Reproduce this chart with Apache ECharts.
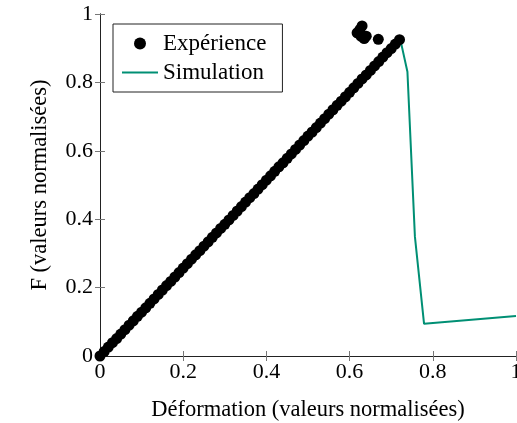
<!DOCTYPE html>
<html>
<head>
<meta charset="utf-8">
<script src="https://cdn.jsdelivr.net/npm/echarts@6/dist/echarts.min.js"></script>
<style>
  html, body { margin: 0; padding: 0; background: #fff; }
  #app { width: 517px; height: 423px; }
</style>
</head>
<body>
<div id="app"></div>
<script>
const FONT = "Liberation Serif";
const TEAL = "#008f74";

const expX = [
  0.00, 0.01, 0.02, 0.03, 0.04, 0.05, 0.06, 0.07, 0.08, 0.09,
  0.10, 0.11, 0.12, 0.13, 0.14, 0.15, 0.16, 0.17, 0.18, 0.19,
  0.20, 0.21, 0.22, 0.23, 0.24, 0.25, 0.26, 0.27, 0.28, 0.29,
  0.30, 0.31, 0.32, 0.33, 0.34, 0.35, 0.36, 0.37, 0.38, 0.39,
  0.40, 0.41, 0.42, 0.43, 0.44, 0.45, 0.46, 0.47, 0.48, 0.49,
  0.50, 0.51, 0.52, 0.53, 0.54, 0.55, 0.56, 0.57, 0.58, 0.59,
  0.60, 0.61, 0.62, 0.63, 0.64, 0.65, 0.66, 0.67, 0.68, 0.69,
  0.70, 0.71, 0.72,
  0.618, 0.625, 0.630, 0.627, 0.635, 0.640, 0.669
];
const expY = [
  0.000, 0.013, 0.026, 0.039, 0.051, 0.064, 0.077, 0.090, 0.103, 0.116,
  0.128, 0.141, 0.154, 0.167, 0.180, 0.193, 0.206, 0.218, 0.231, 0.244,
  0.257, 0.270, 0.283, 0.296, 0.308, 0.321, 0.334, 0.347, 0.360, 0.373,
  0.385, 0.398, 0.411, 0.424, 0.437, 0.450, 0.463, 0.475, 0.488, 0.501,
  0.514, 0.527, 0.540, 0.553, 0.565, 0.578, 0.591, 0.604, 0.617, 0.630,
  0.643, 0.655, 0.668, 0.681, 0.694, 0.707, 0.720, 0.733, 0.745, 0.758,
  0.771, 0.784, 0.797, 0.810, 0.822, 0.835, 0.848, 0.861, 0.874, 0.887,
  0.899, 0.912, 0.925,
  0.945, 0.955, 0.965, 0.935, 0.928, 0.935, 0.926
];

// simulation curve
const simX = [0, 0.722, 0.739, 0.757, 0.779, 1.0];
const simY = [0, 0.925, 0.831, 0.349, 0.094, 0.117];

function pairs(xs, ys) {
  return xs.map((x, i) => [x, ys[i]]);
}

function fmt(v) {
  return String(Math.round(v * 10) / 10);
}

const baseAxis = {
  type: "value",
  min: 0,
  max: 1,
  interval: 0.2,
  axisLine: { show: true, lineStyle: { color: "#222", width: 1 } },
  axisTick: { show: true, inside: true, length: 5, lineStyle: { color: "#777" } },
  splitLine: { show: false }
};

const chart = echarts.init(document.getElementById("app"), null, { renderer: "canvas" });

chart.setOption({
  animation: false,
  backgroundColor: "#fff",
  textStyle: { fontFamily: FONT },
  grid: { left: 100, right: 1, top: 14, bottom: 67, containLabel: false, outerBoundsMode: "none" },
  legend: {
    left: 113,
    top: 24,
    orient: "vertical",
    backgroundColor: "#fff",
    borderColor: "#222",
    borderWidth: 1,
    borderRadius: 0,
    padding: [8, 16, 8, 9],
    itemGap: 6,
    itemWidth: 36,
    itemHeight: 12,
    textStyle: { fontFamily: FONT, fontSize: 23, color: "#000" },
    data: [
      { name: "Expérience", icon: "circle" },
      { name: "Simulation", icon: "path://M0,0L36,0L36,2L0,2Z" }
    ]
  },
  xAxis: [
    Object.assign({}, baseAxis, {
      position: "bottom",
      name: "Déformation (valeurs normalisées)",
      nameLocation: "middle",
      nameGap: 43,
      nameTextStyle: { fontFamily: FONT, fontSize: 22.5, color: "#000" },
      axisLabel: { fontFamily: FONT, fontSize: 22, color: "#000", margin: 5, formatter: fmt }
    }),
    Object.assign({}, baseAxis, {
      position: "top",
      axisLabel: { show: false }
    })
  ],
  yAxis: [
    Object.assign({}, baseAxis, {
      position: "left",
      name: "F (valeurs normalisées)",
      nameLocation: "middle",
      nameGap: 48,
      nameTextStyle: { fontFamily: FONT, fontSize: 22.5, color: "#000" },
      axisLabel: { fontFamily: FONT, fontSize: 22, color: "#000", margin: 7, formatter: fmt }
    }),
    Object.assign({}, baseAxis, {
      position: "right",
      axisLabel: { show: false }
    })
  ],
  series: [
    {
      name: "Expérience",
      type: "scatter",
      symbol: "circle",
      symbolSize: 11,
      itemStyle: { color: "#000", opacity: 1, borderWidth: 0 },
      data: pairs(expX, expY),
      z: 3
    },
    {
      name: "Simulation",
      type: "line",
      symbol: "none",
      lineStyle: { color: TEAL, width: 2 },
      itemStyle: { color: TEAL },
      data: pairs(simX, simY),
      z: 2
    }
  ]
});
</script>
</body>
</html>
